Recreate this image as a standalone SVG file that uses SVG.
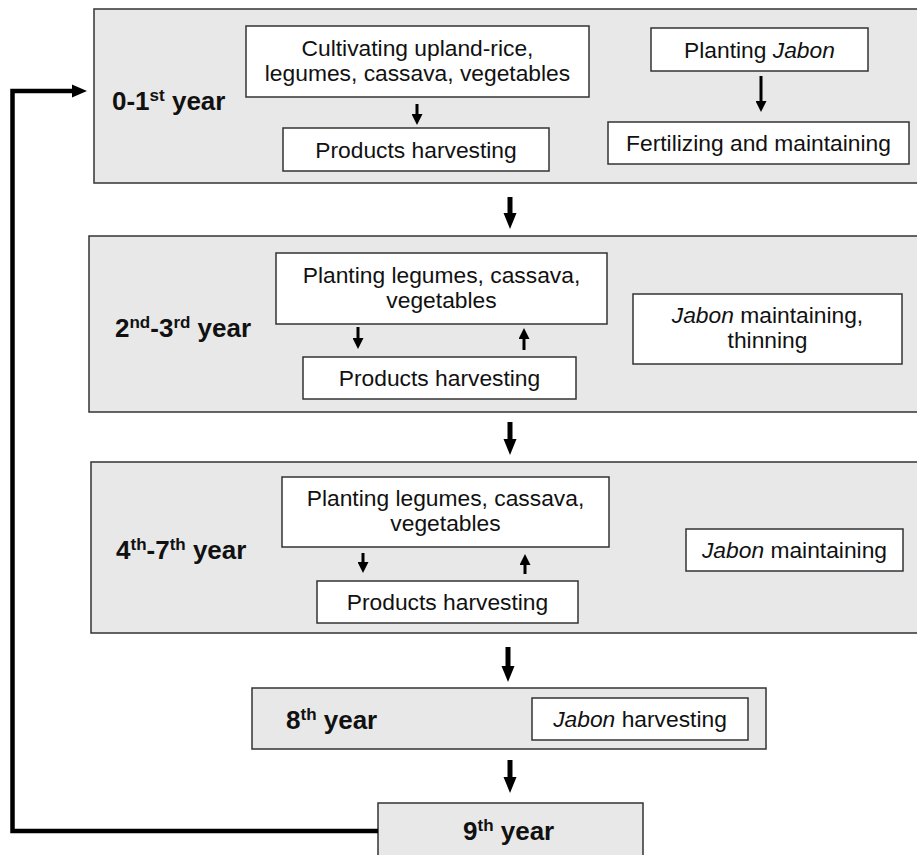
<svg xmlns="http://www.w3.org/2000/svg" width="917" height="855" viewBox="0 0 917 855">
  <style>
    .stage { fill: #e8e8e8; stroke: #333; stroke-width: 1.5; }
    .task { fill: #fff; stroke: #333; stroke-width: 1.5; }
    .txt { font-family: "Liberation Sans", Arial, sans-serif; font-size: 22.8px; fill: #111; text-anchor: middle; }
    .lbl { font-family: "Liberation Sans", Arial, sans-serif; font-size: 26px; font-weight: bold; fill: #111; }
    .sup { font-size: 17px; }
    .it { font-style: italic; }
    .big { stroke: #000; stroke-width: 5; fill: none; }
    .small { stroke: #000; stroke-width: 3; fill: none; }
    .loop { stroke: #000; stroke-width: 4.5; fill: none; }
  </style>
  <defs>
    <marker id="headBig" markerUnits="userSpaceOnUse" markerWidth="16" markerHeight="14" refX="0" refY="7" orient="auto" viewBox="0 0 16 14">
      <path d="M0,0.5 L16,7 L0,13.5 z" fill="#000"/>
    </marker>
    <marker id="headSmall" markerUnits="userSpaceOnUse" markerWidth="11" markerHeight="11" refX="0" refY="5.5" orient="auto" viewBox="0 0 11 11">
      <path d="M0,0 L11,5.5 L0,11 z" fill="#000"/>
    </marker>
    <marker id="headLoop" markerUnits="userSpaceOnUse" markerWidth="15" markerHeight="14" refX="0" refY="7" orient="auto" viewBox="0 0 15 14">
      <path d="M0,0.5 L15,7 L0,13.5 z" fill="#000"/>
    </marker>
  </defs>

  <!-- Stage: 0-1st year -->
  <g id="stage-year0-1">
    <rect class="stage" x="94" y="9" width="830" height="174"/>
    <text class="lbl" x="112" y="110">0-1<tspan class="sup" dy="-9">st</tspan><tspan dy="9"> year</tspan></text>
  </g>
  <g id="cultivating">
    <rect class="task" x="246" y="26" width="343" height="71"/>
    <text class="txt" x="417.5" y="56">Cultivating upland-rice,</text>
    <text class="txt" x="417.5" y="81">legumes, cassava, vegetables</text>
  </g>
  <g id="harvest1">
    <rect class="task" x="283" y="128" width="266" height="43"/>
    <text class="txt" x="416" y="157.5">Products harvesting</text>
  </g>
  <g id="planting-jabon">
    <rect class="task" x="651" y="28" width="217" height="43"/>
    <text class="txt" x="759.5" y="57.5">Planting <tspan class="it">Jabon</tspan></text>
  </g>
  <g id="fertilizing">
    <rect class="task" x="608" y="122" width="301" height="42"/>
    <text class="txt" x="758.5" y="151">Fertilizing and maintaining</text>
  </g>

  <!-- Stage: 2nd-3rd year -->
  <g id="stage-year2-3">
    <rect class="stage" x="89" y="236" width="835" height="176"/>
    <text class="lbl" x="115" y="337">2<tspan class="sup" dy="-9">nd</tspan><tspan dy="9">-3</tspan><tspan class="sup" dy="-9">rd</tspan><tspan dy="9"> year</tspan></text>
  </g>
  <g id="planting2">
    <rect class="task" x="276" y="253" width="331" height="71"/>
    <text class="txt" x="441.5" y="283">Planting legumes, cassava,</text>
    <text class="txt" x="441.5" y="308">vegetables</text>
  </g>
  <g id="harvest2">
    <rect class="task" x="303" y="357" width="273" height="42"/>
    <text class="txt" x="439.5" y="386">Products harvesting</text>
  </g>
  <g id="jabon-thinning">
    <rect class="task" x="633" y="294" width="269" height="70"/>
    <text class="txt" x="767.5" y="323"><tspan class="it">Jabon</tspan> maintaining,</text>
    <text class="txt" x="767.5" y="348">thinning</text>
  </g>

  <!-- Stage: 4th-7th year -->
  <g id="stage-year4-7">
    <rect class="stage" x="91" y="462" width="833" height="171"/>
    <text class="lbl" x="116" y="559">4<tspan class="sup" dy="-9">th</tspan><tspan dy="9">-7</tspan><tspan class="sup" dy="-9">th</tspan><tspan dy="9"> year</tspan></text>
  </g>
  <g id="planting3">
    <rect class="task" x="282" y="477" width="327" height="70"/>
    <text class="txt" x="445.5" y="506">Planting legumes, cassava,</text>
    <text class="txt" x="445.5" y="531">vegetables</text>
  </g>
  <g id="harvest3">
    <rect class="task" x="317" y="581" width="261" height="42"/>
    <text class="txt" x="447.5" y="610">Products harvesting</text>
  </g>
  <g id="jabon-maintaining">
    <rect class="task" x="686" y="529" width="217" height="42"/>
    <text class="txt" x="794.5" y="558"><tspan class="it">Jabon</tspan> maintaining</text>
  </g>

  <!-- Stage: 8th year -->
  <g id="stage-year8">
    <rect class="stage" x="252" y="688" width="514" height="61"/>
    <text class="lbl" x="286" y="729">8<tspan class="sup" dy="-9">th</tspan><tspan dy="9"> year</tspan></text>
  </g>
  <g id="jabon-harvesting">
    <rect class="task" x="532" y="698" width="216" height="42"/>
    <text class="txt" x="640" y="727"><tspan class="it">Jabon</tspan> harvesting</text>
  </g>

  <!-- Stage: 9th year -->
  <g id="stage-year9">
    <rect class="stage" x="378" y="803" width="265" height="60"/>
    <text class="lbl" x="463" y="840">9<tspan class="sup" dy="-9">th</tspan><tspan dy="9"> year</tspan></text>
  </g>

  <!-- Connectors -->
  <g id="connectors">
    <line class="small" x1="417" y1="104" x2="417" y2="114" marker-end="url(#headSmall)"/>
    <line class="small" x1="761" y1="76" x2="761" y2="101" marker-end="url(#headSmall)"/>

    <line class="big" x1="510" y1="197" x2="510" y2="213" marker-end="url(#headBig)"/>
    <line class="big" x1="510" y1="422" x2="510" y2="439" marker-end="url(#headBig)"/>
    <line class="big" x1="508" y1="647" x2="508" y2="666" marker-end="url(#headBig)"/>
    <line class="big" x1="510" y1="760" x2="510" y2="777" marker-end="url(#headBig)"/>

    <line class="small" x1="358" y1="327" x2="358" y2="338" marker-end="url(#headSmall)"/>
    <line class="small" x1="524" y1="350" x2="524" y2="339" marker-end="url(#headSmall)"/>
    <line class="small" x1="363" y1="553" x2="363" y2="562" marker-end="url(#headSmall)"/>
    <line class="small" x1="525" y1="574" x2="525" y2="565" marker-end="url(#headSmall)"/>

    <path class="loop" d="M378,831 H12.5 V91 H72" marker-end="url(#headLoop)"/>
  </g>
</svg>
